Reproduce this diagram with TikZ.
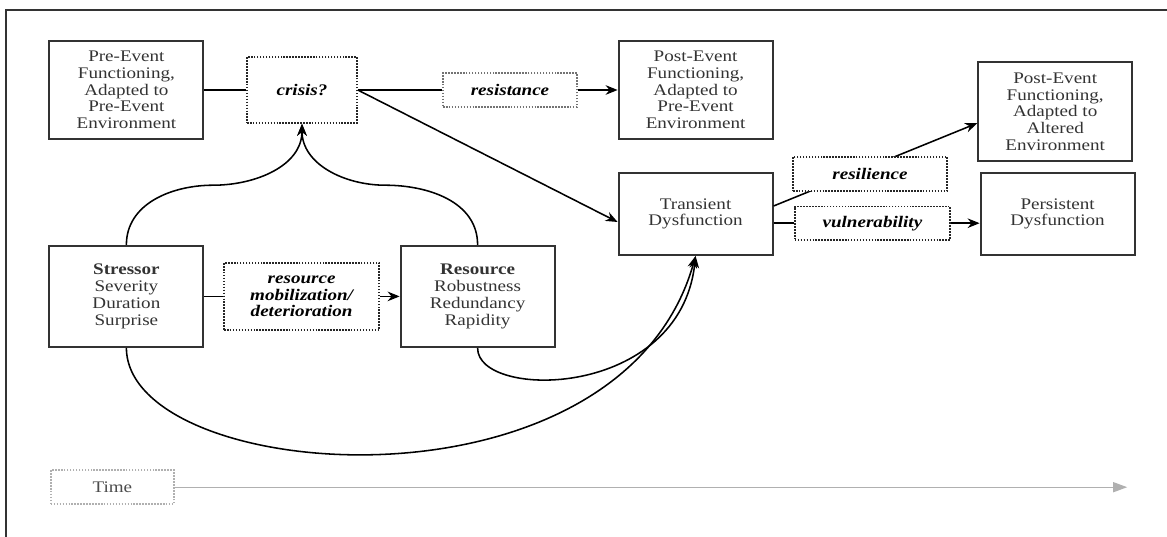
\documentclass[tikz,border=0pt]{standalone}
\usepackage{fontspec}
\setmainfont{Liberation Serif}[FakeStretch=1.18]
\usepackage{tikz}
\usetikzlibrary{arrows.meta}
\definecolor{boxgray}{HTML}{333333}
\definecolor{timegray}{HTML}{B0B0B0}

\begin{document}
\begin{tikzpicture}[
    every node/.style = {
      align=center,
      font=\fontsize{11.5}{11.9}\selectfont
    },
    box/.style = {
      shape=rectangle,
      draw=boxgray,
      line width=1.4pt,
      text=boxgray,
      minimum width=3.85cm
    },
    dotbox/.style = {
      shape=rectangle,
      draw=black!85,
      line width=1.1pt,
      dash pattern=on 1.1pt off 1pt,
      fill=white,
      font=\fontsize{11.5}{11.9}\selectfont\bfseries\itshape
    },
    arrow/.style = {
      -{Stealth[length=0.3cm, width=0.24cm]},
      line width=1.1pt
    },
    link/.style = {
      line width=1.1pt
    }
  ]
    \useasboundingbox (0,0) rectangle (29.175,-13.425);

    % Frame
    \draw[line width=1.3pt, boxgray] (29.175,-0.24) -- (0.15,-0.24) -- (0.15,-13.425);

    % Top row
    \node[box, minimum height=2.45cm] (preevent) at (3.16, -2.25) {Pre-Event\\Functioning,\\Adapted to\\Pre-Event\\Environment};
    \node[dotbox, minimum width=2.75cm, minimum height=1.65cm] (crisis) at (7.55, -2.25) {crisis?};
    \node[dotbox, draw=black!55, minimum width=3.35cm, minimum height=0.85cm] (resistance) at (12.75, -2.25) {resistance};
    \node[box, minimum height=2.45cm] (postpre) at (17.39, -2.25) {Post-Event\\Functioning,\\Adapted to\\Pre-Event\\Environment};

    % Right column
    \node[box, minimum height=2.48cm] (postalt) at (26.38, -2.79) {Post-Event\\Functioning,\\Adapted to\\Altered\\Environment};
    \node[box, minimum height=2.05cm] (transient) at (17.39, -5.35) {Transient\\Dysfunction};
    \node[dotbox, minimum width=3.88cm, minimum height=0.83cm] (vulnerability) at (21.81, -5.58) {vulnerability};
    \node[box, minimum height=2.05cm] (persistent) at (26.44, -5.35) {Persistent\\Dysfunction};

    % Stressor and resource row
    \node[box, minimum height=2.53cm] (stressor) at (3.16, -7.41) {\textbf{Stressor}\\Severity\\Duration\\Surprise};
    \node[dotbox, minimum width=3.88cm, minimum height=1.68cm] (mobilization) at (7.54, -7.41) {resource\\mobilization/\\deterioration};
    \node[box, minimum height=2.53cm] (resource) at (11.94, -7.41) {\textbf{Resource}\\Robustness\\Redundancy\\Rapidity};

    % Time axis
    \node[dotbox, draw=timegray, text=black!70, font=\fontsize{11.5}{11.9}\selectfont, minimum width=3.08cm, minimum height=0.85cm] (time) at (2.81, -12.18) {Time};
    \coordinate (timeend) at (28.18, -12.18);

    % Bends of the curves into crisis?
    \coordinate (leftbend) at (5.33, -4.63);
    \coordinate (rightbend) at (9.63, -4.63);

    % Arrows
    \draw[link] (preevent) -- (crisis);
    \draw[link] (crisis) -- (resistance);
    \draw[arrow] (resistance) -- (postpre);
    \draw[arrow] (crisis.east) -- ([yshift=-0.2cm]transient.west);
    \draw[arrow] ([yshift=0.2cm]transient.east) -- ([yshift=-0.29cm]postalt.west);
    \draw[link] (transient.east |- vulnerability.west) -- (vulnerability.west);
    \draw[arrow] (vulnerability.east) -- (persistent.west |- vulnerability.east);
    \draw[link] (stressor) -- (mobilization);
    \draw[arrow] (mobilization) -- (resource);
    \draw[arrow] (stressor.north) to[out=90, in=180] (leftbend) to[out=0, in=-90] (crisis.south);
    \draw[arrow] (resource.north) to[out=90, in=0] (rightbend) to[out=180, in=-90] (crisis.south);
    \draw[arrow] (stressor.south) .. controls (3.18,-12.1) and (15.5,-13.1) .. (transient.south);
    \draw[arrow] (resource.south) .. controls (11.93,-10) and (17,-10) .. (transient.south);
    \draw[-{Triangle[length=0.35cm, width=0.25cm]}, timegray, line width=0.9pt] (time) -- (timeend);

    % drawn last so it covers the resilience line
    \node[dotbox, minimum width=3.85cm, minimum height=0.85cm] (resilience) at (21.75, -4.35) {resilience};

\end{tikzpicture}
\end{document}
